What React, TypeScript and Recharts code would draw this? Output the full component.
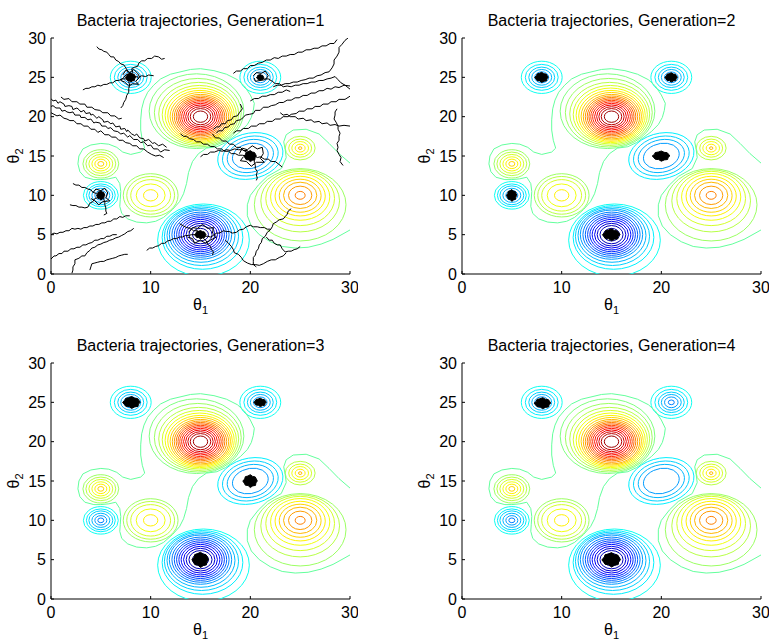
import React from "react";
import { ComposedChart, Scatter, XAxis, YAxis } from "recharts";

// nutrient landscape: peak centres, ellipse stretch/tilt, and every contour ring
const peakX = [15, 15, 20, 25, 10, 5, 5, 8, 21, 25];
const peakY = [20, 5, 15, 10, 10, 14, 10, 25, 25, 16];
const peakStretch = [1, 1, 1.1, 1, 1, 1, 1, 1, 1, 1];
const peakTilt = [0, 0, 30, 0, 0, 0, 0, 0, 0, 0];
const ringRadii = [
  [0.72, 1.03, 1.27, 1.49, 1.7, 1.89, 2.08, 2.26, 2.44, 2.63, 2.83, 3.03, 3.24, 3.47, 3.72, 4.01, 4.36, 4.75],
  [0.8, 1.16, 1.44, 1.7, 1.94, 2.17, 2.4, 2.63, 2.87, 3.13, 3.41, 3.72, 4.05, 4.6],
  [1.7, 2.2, 2.65, 3.1],
  [0.5, 1.17, 1.67, 2.1, 2.52, 2.97, 3.45, 3.95, 4.6],
  [0.72, 1.45, 2.0, 2.4, 2.75],
  [0.3, 0.6, 0.9, 1.2, 1.5, 1.8],
  [0.3, 0.6, 0.9, 1.2, 1.45, 1.75],
  [0.35, 0.7, 1.0, 1.3, 1.65, 2.05],
  [0.3, 0.68, 1.0, 1.3, 1.65, 2.05],
  [0.17, 0.5, 0.84, 1.15, 1.5],
];
const ringLevels = [
  [4.75, 4.5, 4.25, 4.0, 3.75, 3.5, 3.25, 3.0, 2.75, 2.5, 2.25, 2.0, 1.75, 1.5, 1.25, 1.0, 0.75, 0.5],
  [-3.75, -3.5, -3.25, -3.0, -2.75, -2.5, -2.25, -2.0, -1.75, -1.5, -1.25, -1.0, -0.75, -0.5],
  [-1.5, -1.25, -1.0, -0.75],
  [2.75, 2.5, 2.25, 2.0, 1.75, 1.5, 1.25, 1.0, 0.75],
  [1.75, 1.5, 1.25, 1.0, 0.75],
  [2.0, 1.75, 1.5, 1.25, 1.0, 0.75],
  [-1.75, -1.5, -1.25, -1.0, -0.75, -0.5],
  [-1.75, -1.5, -1.25, -1.0, -0.75, -0.5],
  [-1.75, -1.5, -1.25, -1.0, -0.75, -0.5],
  [2.25, 1.75, 1.5, 1.25, 1.0],
];
// outer rings are pushed away from their neighbours
const ringDx = [
  [0, 0, 0, 0, 0, 0, 0, 0, 0, 0, 0, -0.02, -0.05, -0.08, -0.12, -0.18, -0.27, -0.4],
  [0, 0, 0, 0, 0, 0, 0, 0, 0, 0, 0.05, 0.1, 0.2, 0.3],
  [0, 0, 0, 0],
  [0, 0, 0, 0, 0, 0, 0, 0, 0],
  [0, 0, 0, 0, 0], [0, 0, 0, 0, 0, 0], [0, 0, 0, 0, 0, 0], [0, 0, 0, 0, 0, 0], [0, 0, 0, 0, 0, 0], [0, 0, 0, 0, 0],
];
const ringDy = [
  [0, 0, 0, 0, 0, 0, 0, 0, 0, 0, 0, 0.05, 0.1, 0.17, 0.25, 0.35, 0.5, 0.7],
  [0, 0, 0, 0, 0, 0, 0, 0, 0, 0, -0.1, -0.2, -0.35, -0.7],
  [0, 0, 0, 0],
  [0, 0, 0, -0.05, -0.1, -0.2, -0.4, -0.7, -1.2],
  [0, 0, 0, 0, 0], [0, 0, 0, 0, 0, 0], [0, 0, 0, 0, 0, 0], [0, 0, 0, 0, 0, 0], [0, 0, 0, 0, 0, 0], [0, 0, 0, 0, 0],
];

// outer contours that wrap several peaks
const mergedUpper = [[20.4, 21.7], [20.0, 22.75], [19.4, 23.9], [18.7, 24.7], [17.6, 25.4], [16.35, 25.85], [15.0, 26.1], [14.0, 26.0], [12.0, 25.4], [11.0, 24.8], [10.3, 24.0], [9.7, 23.1], [9.33, 22.1], [9.1, 21.0], [9.0, 19.6], [9.0, 18.3], [9.16, 17.0], [9.4, 16.0], [9.0, 15.5], [8.0, 15.2], [7.2, 15.5], [6.6, 16.1], [5.8, 16.5], [5.0, 16.6], [4.0, 16.4], [3.2, 15.9], [2.8, 15.0], [2.7, 14.0], [2.9, 13.0], [3.4, 12.3], [4.3, 12.0], [5.0, 12.0], [5.8, 12.1], [6.5, 12.3], [6.9, 11.5], [7.0, 10.5], [6.95, 9.5], [6.9, 8.6], [7.1, 7.7], [7.7, 7.0], [8.6, 6.6], [9.6, 6.5], [10.5, 6.7], [11.3, 7.2], [12.2, 8.2], [12.9, 9.2], [13.3, 10.2], [13.6, 11.5], [13.8, 12.9], [14.2, 14.3], [14.8, 15.3], [15.6, 16.0], [16.64, 16.18], [17.5, 16.7], [18.2, 17.35], [19.0, 18.1], [19.7, 19.0], [20.1, 19.9], [20.3, 20.8], [20.4, 21.7]];
const mergedRight = [[30, 14.1], [28.9, 15.3], [27.9, 16.6], [26.9, 17.8], [25.6, 18.4], [24.3, 18.3], [23.6, 17.7], [23.35, 16.8], [23.5, 15.8], [23.6, 14.8], [23.1, 13.4], [21.7, 12.4], [20.8, 11.3], [20.0, 10.0], [19.7, 8.8], [19.7, 7.4], [20.1, 6.1], [20.9, 5.0], [22.0, 4.1], [23.2, 3.5], [24.5, 3.3], [25.8, 3.4], [27.1, 3.8], [28.3, 4.4], [29.3, 5.1], [30, 5.6]];
const mergedLevels = [0.25, 0.25];

// generation 1 random-walk trails
const trailsGen1 = [
  [[0, 22.3], [0.2, 22.0], [0.5, 22.1], [0.7, 21.7], [0.9, 21.9], [1.3, 21.6], [1.4, 21.3], [1.8, 21.4], [2.1, 21.3], [2.2, 20.9], [2.6, 21.1], [2.8, 20.9], [3.0, 20.6], [3.3, 20.8], [3.5, 20.4], [3.9, 20.5], [4.0, 20.2], [4.2, 20.3], [4.6, 19.8], [4.8, 20.0], [5.2, 19.6], [5.3, 19.3], [5.7, 19.4], [6.0, 19.1], [6.2, 19.2], [6.5, 18.7], [6.9, 18.8], [7.0, 18.4], [7.4, 18.5], [7.6, 18.1], [7.7, 18.3], [8.1, 17.8], [8.4, 17.6], [8.6, 17.8], [8.9, 17.3], [9.3, 17.2], [9.4, 16.9], [9.8, 17.1], [10.2, 16.6], [10.4, 16.7], [10.8, 16.3], [11.2, 16.5], [11.6, 16.1]],
  [[0, 21.3], [0.2, 21.4], [0.5, 21.1], [0.9, 21.1], [1.1, 20.7], [1.4, 20.8], [1.6, 20.6], [1.9, 20.5], [2.2, 20.6], [2.4, 20.2], [2.9, 20.2], [3.0, 19.9], [3.4, 19.9], [3.7, 19.6], [4.0, 19.7], [4.3, 19.2], [4.5, 19.3], [4.9, 19.2], [5.1, 18.8], [5.5, 18.8], [5.7, 18.5], [6.0, 18.6], [6.3, 18.2], [6.7, 18.1], [7.0, 17.8], [7.3, 17.9], [7.7, 17.4], [7.9, 17.6], [8.3, 17.1], [8.7, 17.1], [9.0, 16.7], [9.3, 16.8], [9.7, 16.3], [10.0, 16.4], [10.3, 15.9], [10.7, 15.9], [11.0, 15.5], [11.4, 15.8], [11.9, 15.7]],
  [[0, 20.5], [0.3, 20.3], [0.6, 20.1], [0.9, 20.2], [1.3, 19.8], [1.6, 19.7], [1.9, 19.5], [2.3, 19.5], [2.6, 19.1], [3.0, 19.1], [3.3, 18.8], [3.7, 18.8], [4.0, 18.4], [4.4, 18.4], [4.7, 18.0], [5.0, 18.2], [5.4, 17.7], [5.8, 17.7], [6.1, 17.4], [6.5, 17.4], [6.8, 17.0], [7.2, 17.0], [7.5, 16.7], [7.9, 16.6], [8.2, 16.3], [8.6, 16.3], [8.9, 15.9], [9.3, 15.9], [9.7, 15.5], [10.1, 15.2], [10.5, 15.0], [10.9, 15.1], [11.3, 14.8]],
  [[1.0, 22.5], [1.3, 22.2], [1.8, 22.3], [2.1, 21.9], [2.6, 21.9], [2.9, 21.6], [3.4, 21.6], [3.6, 21.2], [4.1, 21.2], [4.4, 20.9], [4.9, 20.8], [5.2, 20.5], [5.7, 20.5], [6.0, 20.1], [6.4, 20.1], [6.8, 19.7], [7.1, 19.8]],
  [[16.6, 17.9], [16.8, 18.2], [17.2, 18.2], [17.4, 18.6], [17.8, 18.7], [18.0, 19.0], [18.4, 19.1], [18.6, 19.5], [19.0, 19.6], [19.3, 19.9], [19.5, 20.2], [19.9, 20.3], [20.3, 20.4], [20.5, 20.8], [21.0, 20.8], [21.3, 21.2], [21.8, 21.2], [22.1, 21.4], [22.5, 21.5], [22.9, 21.8], [23.3, 21.8], [23.7, 22.1], [24.1, 22.1], [24.5, 22.4], [24.9, 22.4], [25.3, 22.7], [25.7, 22.7], [26.1, 23.0], [26.5, 23.0], [26.9, 23.3], [27.3, 23.3], [27.7, 23.6], [28.1, 23.5], [28.5, 23.8], [28.9, 23.7], [29.4, 24.0], [30, 23.9]],
  [[18.3, 17.9], [18.6, 18.2], [19.0, 18.2], [19.3, 18.5], [19.8, 18.5], [20.1, 18.8], [20.6, 18.8], [20.9, 19.1], [21.4, 19.1], [21.7, 19.4], [22.2, 19.4], [22.5, 19.7], [23.0, 19.7], [23.3, 20.0], [23.8, 20.0], [24.1, 20.3], [24.6, 20.4], [24.9, 20.7], [25.4, 20.7], [25.7, 21.0], [26.2, 21.0], [26.5, 21.3], [27.0, 21.3], [27.3, 21.6], [27.8, 21.6], [28.1, 21.9], [28.6, 21.9], [28.9, 22.2], [29.5, 22.2], [30, 22.6]],
  [[23.0, 20.5], [23.3, 20.2], [23.7, 20.3], [24.0, 20.0], [24.5, 20.0], [24.8, 19.7], [25.3, 19.8], [25.6, 19.5], [26.1, 19.6], [26.4, 19.3], [26.9, 19.4], [27.2, 19.1], [27.7, 19.2], [28.0, 18.9], [28.5, 19.0], [28.9, 18.8], [29.4, 18.9], [30, 18.8]],
  [[28.7, 21.0], [28.5, 20.6], [28.5, 20.2], [28.4, 19.7], [28.6, 19.3], [28.8, 18.8], [28.8, 18.4], [29.0, 17.9], [28.9, 17.5], [28.9, 17.0], [28.7, 16.6], [28.8, 16.1], [28.7, 15.7], [28.9, 15.2], [29.1, 14.8], [29.0, 14.3], [29.3, 13.8]],
  [[22.3, 23.8], [22.7, 24.0], [23.1, 24.0], [23.5, 24.2], [23.9, 24.2], [24.3, 24.4], [24.7, 24.4], [25.1, 24.6], [25.5, 24.7], [25.9, 24.9], [26.3, 24.9], [26.7, 25.2], [27.1, 25.3], [27.5, 25.6], [27.9, 25.7], [28.2, 26.2], [28.4, 26.7], [28.4, 27.2], [28.7, 27.7], [28.9, 28.2], [28.9, 28.8], [29.2, 29.2], [29.5, 29.7], [29.8, 30]],
  [[18.3, 25.5], [18.6, 25.8], [19.0, 25.8], [19.3, 26.1], [19.7, 26.1], [20.0, 26.5], [20.4, 26.5], [20.8, 26.8], [21.2, 26.9], [21.6, 27.2], [22.0, 27.2], [22.4, 27.5], [22.8, 27.4], [23.2, 27.7], [23.6, 27.7], [24.0, 27.9], [24.4, 27.9], [24.8, 28.2], [25.2, 28.2], [25.6, 28.5], [26.0, 28.5], [26.4, 28.7], [26.8, 28.7], [27.2, 29.0], [27.6, 29.0], [28.0, 29.3], [28.4, 29.3], [28.7, 29.8]],
  [[21.0, 25.0], [21.4, 24.8], [21.8, 24.8], [22.2, 24.5], [22.5, 24.2], [22.9, 24.2], [23.3, 23.8], [23.7, 23.9], [24.1, 23.8], [24.5, 24.0], [24.9, 24.0], [25.3, 24.2], [25.7, 24.2], [26.1, 24.4], [26.5, 24.4], [26.9, 24.6], [27.3, 24.6], [27.7, 24.8], [28.1, 24.9], [28.5, 25.1], [28.8, 24.7], [29.1, 24.3], [29.5, 24.0], [30, 23.5]],
  [[20.0, 22.0], [20.4, 22.3], [20.8, 22.3], [21.2, 22.6], [21.6, 22.6], [22.0, 22.8], [22.4, 22.8], [22.8, 23.1], [23.2, 23.1], [23.6, 23.4], [24.0, 23.2]],
  [[13.0, 17.8], [13.3, 17.5], [13.6, 17.5], [13.9, 17.2], [14.3, 17.1], [14.6, 16.8], [15.0, 16.8], [15.3, 16.5], [15.7, 16.5], [16.0, 16.2], [16.4, 16.2], [16.7, 15.9], [17.1, 15.9], [17.4, 15.6], [17.8, 15.6], [18.1, 15.3], [18.5, 15.3], [18.8, 15.1], [19.2, 15.1], [19.6, 15.0], [20.0, 15.1]],
  [[15.0, 14.9], [15.3, 15.2], [15.7, 15.2], [16.0, 15.5], [16.4, 15.5], [16.8, 15.7], [17.2, 15.6], [17.6, 15.8], [18.0, 15.7], [18.4, 15.9], [18.8, 15.8], [19.2, 15.8], [19.6, 15.5], [20.0, 15.2]],
  [[20.3, 15.1], [20.7, 14.8], [21.0, 14.9], [21.4, 14.6], [21.8, 14.6], [22.1, 14.3], [22.5, 14.3], [22.8, 14.0], [23.2, 13.6]],
  [[20.2, 15.0], [20.4, 14.6], [20.4, 14.2], [20.5, 13.8], [20.5, 13.4], [20.7, 13.0], [20.6, 12.6], [20.7, 12.2], [20.6, 11.9]],
  [[20.0, 15.3], [19.7, 15.7], [19.3, 15.7], [19.0, 16.1], [18.6, 16.1], [18.3, 16.5], [17.9, 16.5], [17.6, 16.9], [17.2, 16.9], [16.9, 17.3], [16.5, 17.3], [16.2, 17.8]],
  [[16.3, 18.4], [16.6, 18.7], [16.9, 18.7], [17.1, 19.1], [17.5, 19.1], [17.7, 19.5], [18.1, 19.6], [18.3, 20.0], [18.7, 20.1], [18.9, 20.5], [19.2, 21.0], [19.0, 21.6]],
  [[4.6, 28.9], [4.8, 28.6], [5.1, 28.5], [5.3, 28.3], [5.6, 28.2], [5.8, 27.9], [6.0, 27.6], [6.3, 27.6], [6.5, 27.2], [6.8, 27.0], [7.0, 26.7], [7.3, 26.6], [7.5, 26.2], [7.7, 25.8], [8.0, 25.4]],
  [[3.2, 23.4], [3.5, 23.6], [3.8, 23.6], [4.1, 23.8], [4.4, 23.8], [4.7, 24.0], [5.0, 23.9], [5.3, 24.1], [5.6, 24.1], [5.9, 24.3], [6.2, 24.3], [6.5, 24.6], [6.8, 24.6], [7.1, 24.8], [7.5, 24.8], [7.9, 25.0]],
  [[8.0, 25.2], [8.2, 25.6], [8.1, 26.1], [8.4, 26.3], [8.7, 26.4], [8.8, 26.8], [9.1, 27.1], [9.4, 27.1], [9.7, 27.4], [10.1, 27.4], [10.4, 27.7], [10.8, 27.6], [11.1, 27.3], [11.4, 27.4]],
  [[7.9, 24.9], [7.8, 24.4], [7.9, 24.0], [7.8, 23.6], [7.8, 23.1], [7.6, 22.7], [7.5, 22.2], [7.3, 21.8], [7.2, 21.4], [7.0, 21.1]],
  [[8.1, 25.0], [8.5, 25.1], [8.8, 25.0], [9.1, 25.2], [9.5, 25.1], [9.8, 25.3], [10.3, 25.2]],
  [[0, 5.0], [0.3, 5.2], [0.6, 5.1], [0.9, 5.3], [1.2, 5.3], [1.5, 5.5], [1.8, 5.5], [2.1, 5.8], [2.4, 5.7], [2.7, 5.8], [3.0, 5.7], [3.3, 5.9], [3.6, 5.9], [3.9, 6.1], [4.2, 6.1], [4.5, 6.3], [4.8, 6.3], [5.1, 6.5], [5.4, 6.5], [5.7, 6.7], [6.0, 6.7], [6.3, 7.0], [6.6, 7.0], [6.9, 7.3], [7.2, 7.2], [7.5, 7.4], [7.9, 7.4]],
  [[0, 1.9], [0.3, 2.3], [0.5, 2.3], [0.8, 2.6], [1.1, 2.6], [1.3, 2.9], [1.7, 2.9], [2.0, 3.2], [2.3, 3.2], [2.6, 3.4], [2.9, 3.4], [3.2, 3.7], [3.5, 3.7], [3.8, 3.9], [4.1, 4.0], [4.4, 4.3], [4.7, 4.3], [5.0, 4.5], [5.3, 4.5], [5.6, 4.8], [5.9, 4.8], [6.2, 5.0], [6.6, 5.0]],
  [[2.1, 0.1], [2.2, 0.5], [2.2, 0.9], [2.4, 1.3], [2.4, 1.8], [2.8, 2.0], [3.1, 2.3], [3.4, 2.3], [3.6, 2.7], [3.9, 3.0], [4.1, 3.3], [4.4, 3.4], [4.7, 3.7], [5.0, 3.8], [5.3, 4.0], [5.6, 4.1], [5.9, 4.3], [6.2, 4.4], [6.5, 4.6], [6.8, 4.7], [7.1, 4.9], [7.4, 5.1], [7.7, 5.4], [8.0, 5.5], [8.3, 5.8]],
  [[3.9, 0.5], [4.0, 0.9], [4.1, 1.3], [4.4, 1.4], [4.7, 1.5], [5.0, 1.6], [5.3, 1.6], [5.6, 1.8], [5.9, 1.9], [6.2, 2.0], [6.5, 2.1], [6.8, 2.3], [7.1, 2.4], [7.4, 2.5], [7.7, 2.5]],
  [[2.2, 11.5], [2.5, 11.3], [2.8, 11.3], [3.1, 11.0], [3.4, 11.0], [3.7, 10.8], [4.0, 10.7], [4.2, 10.4], [4.6, 10.2]],
  [[1.9, 8.8], [2.2, 8.7], [2.5, 8.7], [2.8, 8.5], [3.1, 8.5], [3.4, 8.4], [3.7, 8.5], [3.9, 9.0], [4.2, 9.2], [4.4, 9.6], [4.7, 9.7]],
  [[5.3, 9.5], [5.4, 9.1], [5.4, 8.8], [5.5, 8.4], [5.5, 8.0], [5.6, 7.7], [5.3, 7.5]],
  [[9.6, 3.0], [9.9, 3.3], [10.2, 3.3], [10.5, 3.5], [10.8, 3.6], [11.1, 3.9], [11.4, 3.9], [11.7, 4.2], [12.0, 4.3], [12.3, 4.5], [12.6, 4.5], [12.9, 4.7], [13.2, 4.7], [13.5, 4.9], [13.8, 4.9], [14.1, 5.0], [14.5, 5.0], [14.9, 5.1]],
  [[15.0, 5.0], [15.3, 4.8], [15.7, 4.8], [16.0, 4.7], [16.3, 4.9], [16.6, 5.2], [16.9, 5.2], [17.3, 5.5], [17.6, 5.4], [17.9, 5.4], [18.2, 5.2], [18.6, 5.3], [18.9, 5.6], [19.3, 5.7], [19.6, 6.0], [20.0, 6.2], [20.3, 6.0], [20.7, 6.0], [21.0, 5.9], [21.4, 5.9], [21.7, 5.7], [22.0, 5.7]],
  [[22.0, 5.6], [21.7, 5.3], [21.5, 4.8], [21.2, 4.5], [21.1, 4.0], [20.9, 3.7], [20.8, 3.2], [20.6, 2.9], [20.5, 2.4], [20.3, 2.1], [20.3, 1.6], [20.3, 1.2], [20.6, 0.9]],
  [[21.6, 4.7], [21.9, 4.3], [22.2, 4.3], [22.4, 3.9], [22.7, 3.7], [23.0, 3.7], [23.2, 3.2], [23.5, 2.8], [23.8, 2.9], [24.1, 2.9], [24.4, 3.1], [24.7, 3.2], [25.0, 3.5]],
  [[22.0, 5.6], [22.2, 6.0], [22.3, 6.4], [22.6, 6.6], [22.9, 6.9], [23.3, 7.0], [23.5, 7.3], [23.7, 7.6], [23.8, 8.0], [24.1, 8.3]],
  [[15.0, 5.0], [15.3, 4.5], [15.6, 4.2], [15.7, 3.8], [16.0, 3.5], [16.1, 3.1], [16.3, 2.8], [16.2, 2.4]],
  [[17.5, 4.3], [17.8, 3.9], [18.1, 3.5], [18.3, 3.1], [18.4, 2.7], [18.8, 2.5], [19.1, 2.1], [19.3, 1.7], [19.7, 1.4], [20.1, 1.2], [20.5, 1.2], [20.9, 1.1], [21.3, 1.3], [21.7, 1.6], [22.1, 1.8], [22.5, 1.8], [22.9, 2.1], [23.3, 2.3], [23.6, 2.7]],
  [[15.0, 5.2], [14.7, 5.5], [14.3, 5.5], [14.0, 5.8], [13.6, 5.9], [13.3, 6.1], [12.9, 6.4]],
  [[7.2, 25.3], [7.5, 25.9], [7.9, 25.6], [8.3, 26.0], [8.7, 25.5], [8.9, 25.0], [8.5, 24.5], [8.8, 24.1], [8.2, 24.2], [7.8, 23.9], [7.4, 24.4], [7.0, 24.6], [7.3, 25.0], [7.6, 25.4]],
  [[20.3, 25.2], [20.6, 25.6], [21.1, 25.5], [21.5, 25.8], [21.8, 25.2], [21.5, 24.7], [21.0, 24.6], [20.5, 24.5], [20.4, 24.9]],
  [[18.9, 15.3], [19.2, 16.0], [19.7, 15.8], [20.2, 16.3], [20.7, 15.9], [21.2, 16.1], [21.3, 15.3], [21.0, 14.7], [21.4, 14.2], [20.6, 14.2], [20.1, 13.7], [19.6, 14.3], [19.0, 14.4], [19.3, 14.9]],
  [[13.8, 5.3], [14.2, 5.9], [14.7, 5.8], [15.2, 6.3], [15.7, 5.8], [16.3, 5.9], [16.2, 5.2], [16.6, 4.7], [16.0, 4.3], [15.5, 3.9], [15.0, 4.3], [14.4, 3.9], [14.2, 4.5], [13.7, 4.7]],
  [[4.2, 10.3], [4.5, 10.8], [5.0, 10.6], [5.4, 10.9], [5.7, 10.3], [5.5, 9.7], [5.9, 9.3], [5.2, 9.2], [4.8, 8.8], [4.4, 9.3], [4.0, 9.6]],
];

// bacteria clusters per generation: centre and spread (data units)
const clusterX = [[8, 21, 20, 15, 5], [8, 21, 20, 15, 5], [8.1, 21, 20, 15], [8.1, 15]];
const clusterY = [[25, 25, 15, 5, 10], [25, 25, 15, 5, 10], [25, 25, 15, 5], [24.9, 5]];
const clusterW = [[1.0, 0.7, 1.2, 1.1, 0.8], [1.3, 1.2, 1.7, 1.7, 1.0], [1.7, 1.2, 1.4, 1.6], [1.6, 1.8]];
const clusterH = [[1.1, 0.7, 1.3, 1.0, 1.1], [1.2, 1.1, 1.2, 1.4, 1.4], [1.4, 1.0, 1.5, 1.8], [1.3, 1.7]];

const generations = [1, 2, 3, 4];
const xTicks = [0, 10, 20, 30];
const yTicks = [0, 5, 10, 15, 20, 25, 30];

const PLOT_W = 299;
const PLOT_H = 236;
const KX = PLOT_W / 30;
const KY = PLOT_H / 30;
const FONT = "'Liberation Sans', Arial, Helvetica, sans-serif";
const OFFSETS = [[0, 0], [411, 0], [0, 325], [411, 325]];

// matlab "jet" colour for a contour level
const jet = (v: number) => {
  const t = (v + 4) / 9;
  const c = (x: number) => Math.round(255 * Math.max(0, Math.min(1, x)));
  return `rgb(${c(1.5 - Math.abs(4 * t - 3))},${c(1.5 - Math.abs(4 * t - 2))},${c(1.5 - Math.abs(4 * t - 1))})`;
};

const ringData = peakX.flatMap((x, i) =>
  ringRadii[i].map((r, j) => ({
    x, y: peakY[i], r, v: ringLevels[i][j], dx: ringDx[i][j], dy: ringDy[i][j], s: peakStretch[i], a: peakTilt[i],
  }))
);
const toPts = (pts: number[][]) => pts.map(([x, y]) => ({ x, y }));

const RingShape = (props: any) => {
  const { cx, cy, payload: p } = props;
  return (
    <g transform={`translate(${cx} ${cy}) scale(${KX} ${-KY})`}>
      <ellipse cx={p.dx} cy={p.dy} rx={p.r * p.s} ry={p.r / p.s}
        transform={`rotate(${p.a} ${p.dx} ${p.dy})`}
        fill="none" stroke={jet(p.v)} strokeWidth={1} vectorEffect="non-scaling-stroke" />
    </g>
  );
};

const BUMPS = [1, 0.86, 1.05, 0.9, 1.1, 0.82, 1, 0.95, 1.08, 0.88, 1.02, 0.92, 1.06, 0.84, 0.98, 0.93];
const BlobShape = (props: any) => {
  const { cx, cy, payload } = props;
  const d = BUMPS.map((f, k) => {
    const a = (k / BUMPS.length) * Math.PI * 2;
    const px = cx + Math.cos(a) * (payload.w / 2) * KX * f;
    const py = cy + Math.sin(a) * (payload.h / 2) * KY * f;
    return `${k === 0 ? "M" : "L"}${px.toFixed(1)},${py.toFixed(1)}`;
  }).join(" ");
  return <path d={d + " Z"} fill="#000" stroke="#000" strokeWidth={1} />;
};

const NoDot = () => <g />;

const Panel = ({ gi }: { gi: number }) => {
  const clusters = clusterX[gi].map((x, i) => ({ x, y: clusterY[gi][i], w: clusterW[gi][i], h: clusterH[gi][i] }));
  const trails = gi === 0 ? trailsGen1 : [];
  const tickStyle = { fontSize: 16, fill: "#000", fontFamily: FONT };
  return (
    <ComposedChart width={358} height={321} margin={{ top: 38, right: 8, bottom: 17, left: 0 }}>
      <XAxis dataKey="x" type="number" domain={[0, 30]} ticks={xTicks} allowDataOverflow height={30}
        tickSize={-3} tickMargin={11} tick={tickStyle} stroke="#000" />
      <YAxis dataKey="y" type="number" domain={[0, 30]} ticks={yTicks} allowDataOverflow width={51}
        tickSize={-3} tickMargin={8} tick={tickStyle} stroke="#000" />
      <XAxis xAxisId="top" orientation="top" type="number" domain={[0, 30]} ticks={xTicks} height={0}
        tickSize={-3} tick={NoDot} stroke="#000" />
      <YAxis yAxisId="right" orientation="right" type="number" domain={[0, 30]} ticks={yTicks} width={0}
        tickSize={-3} tick={NoDot} stroke="#000" />
      <Scatter data={ringData} shape={RingShape} isAnimationActive={false} />
      {[mergedUpper, mergedRight].map((m, i) => (
        <Scatter key={"m" + i} data={toPts(m)} line={{ stroke: jet(mergedLevels[i]), strokeWidth: 1 }}
          shape={NoDot} fill={jet(mergedLevels[i])} isAnimationActive={false} />
      ))}
      {trails.map((t, i) => (
        <Scatter key={"t" + i} data={toPts(t)} line={{ stroke: "#000", strokeWidth: 1 }}
          shape={NoDot} fill="#000" isAnimationActive={false} />
      ))}
      <Scatter data={clusters} shape={BlobShape} isAnimationActive={false} />
    </ComposedChart>
  );
};

const Labels = ({ gi }: { gi: number }) => {
  const [ox, oy] = OFFSETS[gi];
  const cx = ox + 51 + PLOT_W / 2;
  return (
    <g fontFamily={FONT} fill="#000">
      <text x={cx} y={oy + 26} textAnchor="middle" fontSize={16}>
        {`Bacteria trajectories, Generation=${generations[gi]}`}
      </text>
      <text x={cx} y={oy + 310} textAnchor="middle" fontSize={16}>
        θ<tspan fontSize={11} dy={4}>1</tspan>
      </text>
      <text transform={`translate(${ox + 19},${oy + 156}) rotate(-90)`} textAnchor="middle" fontSize={16}>
        θ<tspan fontSize={11} dy={4}>2</tspan>
      </text>
    </g>
  );
};

export default function App() {
  return (
    <div style={{ position: "absolute", left: 0, top: 0, width: 769, height: 642, background: "#fff", overflow: "hidden" }}>
      {OFFSETS.map(([ox, oy], gi) => (
        <div key={gi} style={{ position: "absolute", left: ox, top: oy }}>
          <Panel gi={gi} />
        </div>
      ))}
      <svg width={769} height={642} style={{ position: "absolute", left: 0, top: 0, pointerEvents: "none" }}>
        {OFFSETS.map((_, gi) => (
          <Labels key={gi} gi={gi} />
        ))}
      </svg>
    </div>
  );
}
